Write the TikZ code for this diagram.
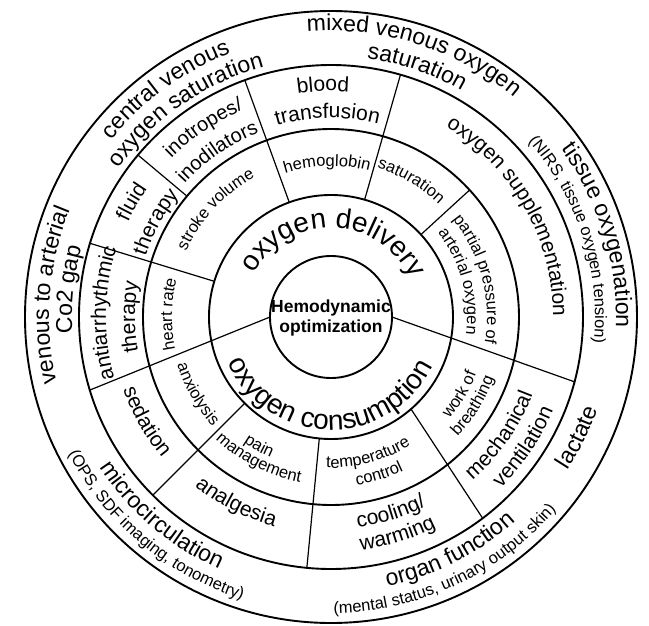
\documentclass[tikz,border=0pt]{standalone}
\usepackage{fontspec}
\setmainfont{Liberation Sans}
\usetikzlibrary{decorations.text}

% text set along an arc, centred on the given angle
\newcommand\cwlabel[4]{% radius, angle, size, text (reads clockwise)
  \path[decorate,decoration={text along path,text align=center,
      text={|\fontsize{#3}{#3}\selectfont|#4}}]
    ({#2+85}:#1) arc[start angle={#2+85},delta angle=-170,radius=#1];}
\newcommand\ccwlabel[4]{% radius, angle, size, text (reads counter-clockwise)
  \path[decorate,decoration={text along path,text align=center,
      text={|\fontsize{#3}{#3}\selectfont|#4}}]
    ({#2-85}:#1) arc[start angle={#2-85},delta angle=170,radius=#1];}

\tikzset{
  ring/.style={line width=1.9pt},
  divider/.style={line width=1.2pt},
}

\begin{document}
\begin{tikzpicture}[x=1pt,y=1pt]
\useasboundingbox (-331,-308) rectangle (318,317);
% rings
\foreach \r in {61,122,188,252,306}
  \draw[ring] (0,0) circle[radius=\r];
% sector borders
\foreach \a in {74,110,163,-135,-95.5}
  \draw[divider] (\a:122) -- (\a:252);
\draw[divider] (140:188) -- (140:252);
\draw[divider] (42.5:122) -- (42.5:188);
\draw[divider] (-49:122) -- (-53:252);
% delivery / consumption split
\coordinate (wl) at (-61,0); \coordinate (wl2) at (-241,-73);
\coordinate (wr) at (61,0);  \coordinate (wr2) at (244,-65);
\draw[divider] (wl) -- (wl2);
\draw[divider] (wr) -- (wr2);

\node[font=\bfseries\fontsize{17.5}{20}\selectfont,align=center] (core) at (0,-1) {Hemodynamic\\optimization};

% inner ring
\cwlabel{89}{88}{28}{oxygen delivery}
\ccwlabel{113}{-91}{28}{oxygen consumption}

% third ring
\cwlabel{151}{91.5}{16.5}{hemoglobin}
\cwlabel{156}{59.5}{16.5}{saturation}
\cwlabel{159}{137}{16.5}{stroke volume}
\cwlabel{159}{179}{16.5}{heart rate}
\cwlabel{156}{14.5}{16.5}{partial pressure of}
\cwlabel{136}{15.5}{16.5}{arterial oxygen}
\ccwlabel{156}{-31}{16.5}{work of}
\ccwlabel{174}{-32}{16.5}{breathing}
\ccwlabel{151}{-75}{16.5}{temperature}
\ccwlabel{170}{-73}{16.5}{control}
\ccwlabel{153}{-119}{16.5}{pain}
\ccwlabel{168}{-117}{16.5}{management}
\ccwlabel{161}{-150}{16.5}{anxiolysis}

% fourth ring
\cwlabel{226}{92}{21}{blood}
\cwlabel{199}{91}{21}{transfusion}
\cwlabel{225}{124}{20}{inotropes/}
\cwlabel{198}{124.5}{20}{inodilators}
\cwlabel{224}{150}{21}{fluid}
\cwlabel{195}{151.5}{21}{therapy}
\cwlabel{225}{179}{21}{antiarrhythmic}
\cwlabel{196}{180}{21}{therapy}
\ccwlabel{220}{-150.5}{21}{sedation}
\ccwlabel{217}{-117}{21}{analgesia}
\ccwlabel{212}{-73}{21}{cooling/}
\ccwlabel{235}{-73}{21}{warming}
\ccwlabel{216}{-35}{21}{mechanical}
\ccwlabel{241}{-34}{21}{ventilation}
\cwlabel{222}{29.5}{21}{oxygen supplementation}

% outer ring
\cwlabel{286}{72.5}{23}{mixed venous oxygen}
\cwlabel{261}{71}{23}{saturation}
\cwlabel{282}{126}{23}{central venous}
\cwlabel{259}{125}{23}{oxygen saturation}
\cwlabel{282}{175.5}{23}{venous to arterial}
\cwlabel{259}{174}{23}{Co2 gap}
\cwlabel{285}{17}{23}{tissue oxygenation}
\cwlabel{264}{18}{16.5}{(NIRS, tissue oxygen tension)}
\ccwlabel{282}{-26}{23}{lactate}
\ccwlabel{275}{-63}{23}{organ function}
\ccwlabel{296}{-65}{16.5}{(mental status, urinary output skin)}
\ccwlabel{276}{-130.5}{23}{microcirculation}
\ccwlabel{296}{-130}{16.5}{(OPS, SDF imaging, tonometry)}
\end{tikzpicture}
\end{document}
